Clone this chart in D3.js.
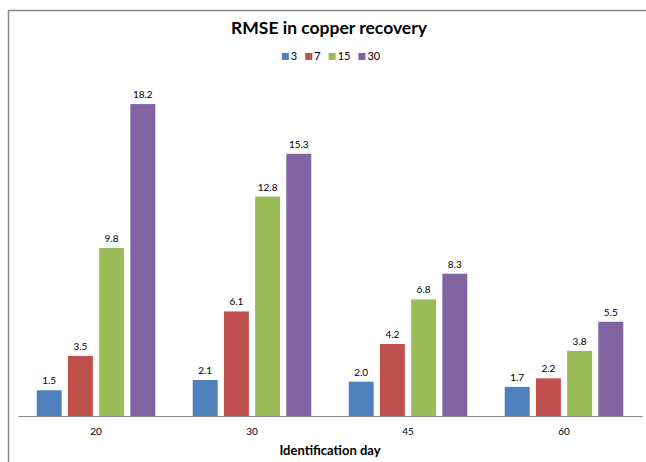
<!DOCTYPE html>
<html>
<head>
<meta charset="utf-8">
<script src="https://cdn.jsdelivr.net/npm/d3@7"></script>
<style>
  html, body { margin: 0; padding: 0; background: #fff; }
  svg { display: block; }
  text { font-family: Lato, "Open Sans", sans-serif; fill: #000; }
</style>
</head>
<body>
<svg id="chart" width="646" height="462"></svg>
<script>
// Identification days (x categories)
const categories = ["20", "30", "45", "60"];
// Series names shown in the legend
const seriesNames = ["3", "7", "15", "30"];
// RMSE values per series, one entry per identification day
const series3  = [1.5, 2.1, 2.0, 1.7];
const series7  = [3.5, 6.1, 4.2, 2.2];
const series15 = [9.8, 12.8, 6.8, 3.8];
const series30 = [18.2, 15.3, 8.3, 5.5];
const colors = ["#4F81BD", "#C0504D", "#9BBB59", "#8064A2"];

const seriesValues = [series3, series7, series15, series30];

const svg = d3.select("#chart");
const W = 646, H = 462;

// chart frame
svg.append("path")
  .attr("d", `M8.5,${H + 2} V10.5 H${W + 2}`)
  .attr("fill", "none")
  .attr("stroke", "#8a8a8a")
  .attr("stroke-width", 1.5);

const plot = { left: 18, right: 642, top: 73.2, bottom: 416 };

const x0 = d3.scaleBand()
  .domain(categories)
  .range([plot.left, plot.right])
  .paddingInner(0.24)
  .paddingOuter(0.12);

const x1 = d3.scaleBand()
  .domain(seriesNames)
  .range([0, x0.bandwidth()])
  .paddingInner(0.2);

const y = d3.scaleLinear()
  .domain([0, 20])
  .range([plot.bottom, plot.top]);

// bars
const groups = svg.append("g").selectAll("g")
  .data(categories)
  .join("g")
  .attr("transform", d => `translate(${x0(d)},0)`);

groups.selectAll("rect")
  .data((c, i) => seriesNames.map((s, j) => ({ s, j, v: seriesValues[j][i] })))
  .join("rect")
  .attr("x", d => x1(d.s))
  .attr("y", d => y(d.v))
  .attr("width", x1.bandwidth())
  .attr("height", d => y(0) - y(d.v))
  .attr("fill", d => colors[d.j]);

// value labels
groups.selectAll("text.val")
  .data((c, i) => seriesNames.map((s, j) => ({ s, j, v: seriesValues[j][i] })))
  .join("text")
  .attr("class", "val")
  .attr("x", d => x1(d.s) + x1.bandwidth() / 2)
  .attr("y", d => y(d.v) - 6)
  .attr("text-anchor", "middle")
  .attr("font-size", 10)
  .text(d => d3.format(".1f")(d.v));

// x axis
const xAxis = svg.append("g")
  .attr("transform", `translate(0,${plot.bottom})`)
  .call(d3.axisBottom(x0).tickSize(0).tickPadding(12));
xAxis.select(".domain").attr("stroke", "#868686").attr("stroke-width", 1.2);
xAxis.selectAll("text")
  .attr("font-size", 10)
  .attr("font-family", "Lato, sans-serif")
  .attr("fill", "#000");

// axis title
svg.append("text")
  .attr("x", (plot.left + plot.right) / 2)
  .attr("y", 455)
  .attr("text-anchor", "middle")
  .attr("font-size", 13)
  .attr("font-weight", "bold")
  .text("Identification day");

// chart title
svg.append("text")
  .attr("x", 329)
  .attr("y", 34)
  .attr("text-anchor", "middle")
  .attr("font-size", 17.5)
  .attr("font-weight", "bold")
  .text("RMSE in copper recovery");

// legend
const legendItems = seriesNames.map((s, j) => ({ s, j }));
const legend = svg.append("g");
let lx = 0;
const items = legend.selectAll("g")
  .data(legendItems)
  .join("g");
items.each(function(d) {
  const g = d3.select(this);
  g.append("rect").attr("width", 7).attr("height", 7).attr("y", -6).attr("fill", colors[d.j]);
  const t = g.append("text").attr("x", 9).attr("y", 0.5).attr("font-size", 11).text(d.s);
  const w = 9 + t.node().getComputedTextLength();
  g.attr("transform", `translate(${lx},0)`);
  lx += w + 8;
});
const legendWidth = lx - 8;
legend.attr("transform", `translate(${331 - legendWidth / 2},59)`);
</script>
</body>
</html>
